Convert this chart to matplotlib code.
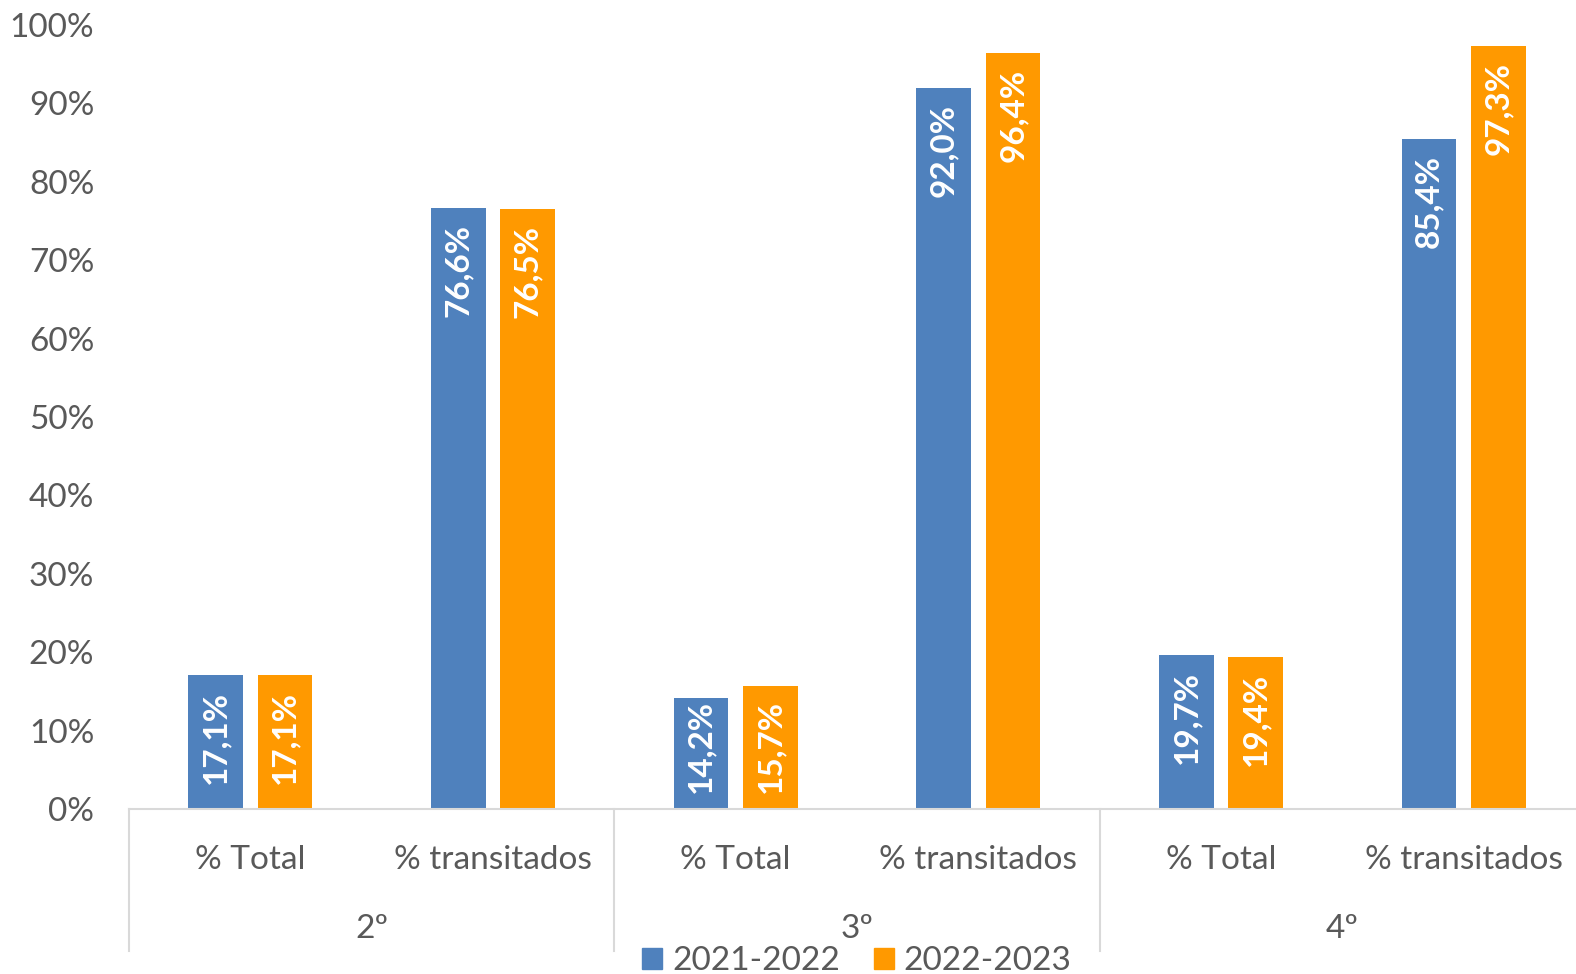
import matplotlib.pyplot as plt
import matplotlib.transforms as mtransforms
from matplotlib.patches import Patch
import numpy as np

# dados do gráfico
cursos = ['2º', '3º', '4º']
indicadores = ['% Total', '% transitados']
series = ['2021-2022', '2022-2023']
v_2122 = [17.1, 76.6, 14.2, 92.0, 19.7, 85.4]
v_2223 = [17.1, 76.5, 15.7, 96.4, 19.4, 97.3]
cores = ['#4F81BD', '#FF9900']

plt.rcParams['font.family'] = ['Lato', 'DejaVu Sans']
cinza = '#595959'

fig = plt.figure(figsize=(15.76, 9.74), dpi=100)
# eixo um pouco para lá da margem direita, como no original
ax = fig.add_axes([129 / 1576, (974 - 809) / 974, 1456 / 1576, 784 / 974])

n = len(v_2122)
x = np.arange(n)
w = 0.225
off = 0.143
px_por_pct = 784 / 100  # altura do eixo em px / 100%
comp_rotulo = 92        # comprimento aproximado do rótulo em px
for vals, cor, d in [(v_2122, cores[0], -off), (v_2223, cores[1], off)]:
    bars = ax.bar(x + d, vals, w, color=cor)
    for b, v in zip(bars, vals):
        # "inside end" como no Excel, mas sem sair da barra
        dy = min(16, v * px_por_pct - 17 - comp_rotulo)
        ax.annotate(f'{v:.1f}%'.replace('.', ','), (b.get_x() + b.get_width() / 2, v),
                    xytext=(0, -dy), textcoords='offset pixels',
                    rotation=90, ha='center', va='top', color='white',
                    fontsize=24, fontweight='bold')

ax.set_xlim(-0.5, n - 0.5)
ax.set_ylim(0, 100)
ax.set_yticks(range(0, 101, 10))
ax.set_yticklabels([f'{t}%' for t in range(0, 101, 10)])
ax.tick_params(axis='y', length=0, labelsize=24, labelcolor=cinza, pad=25)
ax.set_xticks([])
for s in ['top', 'right', 'left']:
    ax.spines[s].set_visible(False)
ax.spines['bottom'].set_color('#D9D9D9')
ax.spines['bottom'].set_linewidth(1.5)

# eixo hierárquico (indicador / curso)
tr = mtransforms.blended_transform_factory(ax.transData, ax.transAxes)
for i in range(n):
    ax.text(x[i], -51 / 784, indicadores[i % 2], transform=tr, ha='center', va='center',
            fontsize=24, color=cinza)
for g in range(len(cursos)):
    ax.text(2 * g + 0.5, -120 / 784, cursos[g], transform=tr, ha='center', va='center',
            fontsize=24, color=cinza)
for g in range(len(cursos) + 1):
    ax.plot([2 * g - 0.5, 2 * g - 0.5], [0, -142 / 784], transform=tr, color='#D9D9D9',
            lw=1.5, clip_on=False)

handles = [Patch(color=c, label=s) for c, s in zip(cores, series)]
fig.legend(handles=handles, loc='center', bbox_to_anchor=(857 / 1576, (974 - 961) / 974),
           ncol=2, frameon=False, fontsize=24, labelcolor=cinza, handlelength=0.6,
           handleheight=0.6, handletextpad=0.3, columnspacing=1.0)

fig.savefig('out.png', dpi=100)
